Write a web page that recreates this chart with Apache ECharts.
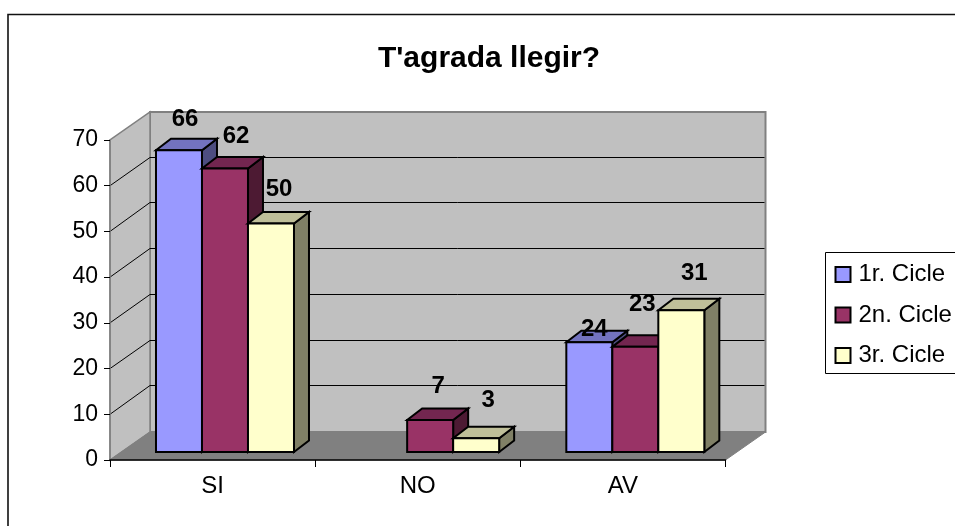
<!DOCTYPE html>
<html>
<head>
<meta charset="utf-8">
<style>html,body{margin:0;padding:0;background:#fff;overflow:hidden}#c{width:955px;height:526px}</style>
<script src="https://cdn.jsdelivr.net/npm/echarts@6/dist/echarts.min.js"></script>
</head>
<body>
<div id="c"></div>
<script>
var titleText = "T'agrada llegir?";
var categories = ['SI', 'NO', 'AV'];
var seriesNames = ['1r. Cicle', '2n. Cicle', '3r. Cicle'];
var cicle1 = [66, null, 24];
var cicle2 = [62, 7, 23];
var cicle3 = [50, 3, 31];
var yTicks = [0, 10, 20, 30, 40, 50, 60, 70];

var FONT = '"Liberation Sans", Arial, sans-serif';
var frontColors = ['#9999FF', '#993366', '#FFFFCC'];
var topColors = ['#7373BF', '#732650', '#BFBF99'];
var sideColors = ['#4D4D80', '#4D1A33', '#808066'];
var wallDepth = [40, -28];
var barFront = [12.4, -8];
var barDepth = [15, -11.5];
var barRatio = 0.2242;
// hand-placed data label offsets from the bar's top-front centre [series][category]
var labelNudge = [
  [[6, -31], [0, 0], [5, -13]],
  [[11, -32], [8, -34], [7, -42]],
  [[8, -34], [12, -38], [13, -37]]
];

function poly(points, fill, stroke, lw) {
  return { type: 'polygon', shape: { points: points },
    style: { fill: fill, stroke: stroke, lineWidth: lw, lineJoin: 'miter' } };
}
function wallsRender(params, api) {
  var c = params.coordSys, dx = wallDepth[0], dy = wallDepth[1];
  var L = c.x, R = c.x + c.width, B = c.y + c.height, T = c.y;
  var ch = [
    poly([[L + dx, T + dy], [R + dx, T + dy], [R + dx, B + dy], [L + dx, B + dy]], '#C0C0C0', '#808080', 2),
    poly([[L, B], [L + dx, B + dy], [L + dx, T + dy], [L, T]], '#C0C0C0', '#808080', 1.5),
    poly([[L, B], [R, B], [R + dx, B + dy], [L + dx, B + dy]], '#808080', '#808080', 1)
  ];
  yTicks.slice(1, -1).forEach(function (v) {
    var y = api.coord([0, v])[1];
    var yb = Math.floor(y + dy - 0.5) + 0.5;
    ch.push({ type: 'polyline', shape: { points: [[L, y], [L + dx, yb], [R + dx - 1, yb]] },
      style: { fill: null, stroke: '#000', lineWidth: 1 } });
  });
  return { type: 'group', children: ch };
}
function barRender(si) {
  return function (params, api) {
    var v = api.value(1), cat = api.value(0);
    if (v == null || isNaN(v)) return null;
    var w = api.size([1, 0])[0], bw = w * barRatio;
    var cx = api.coord([cat, 0])[0];
    var x0 = cx + (si - 1.5) * bw + barFront[0], x1 = x0 + bw;
    var yb = api.coord([cat, 0])[1] + barFront[1];
    var yt = api.coord([cat, v])[1] + barFront[1];
    var dx = barDepth[0], dy = barDepth[1];
    var s = '#000', lw = 2;
    var n = labelNudge[si][cat];
    return { type: 'group', children: [
      poly([[x1, yb], [x1 + dx, yb + dy], [x1 + dx, yt + dy], [x1, yt]], sideColors[si], s, lw),
      poly([[x0, yt], [x1, yt], [x1 + dx, yt + dy], [x0 + dx, yt + dy]], topColors[si], s, lw),
      poly([[x0, yb], [x1, yb], [x1, yt], [x0, yt]], frontColors[si], s, lw),
      { type: 'text', z2: 100, style: { x: (x0 + x1) / 2 + n[0], y: yt + n[1], text: String(v),
        fill: '#000', font: 'bold 24px ' + FONT, align: 'center', verticalAlign: 'middle' } }
    ] };
  };
}
function barSeries(si, values) {
  return { type: 'custom', name: seriesNames[si], renderItem: barRender(si),
    coordinateSystem: 'cartesian2d', encode: { x: 0, y: 1 },
    itemStyle: { color: frontColors[si], borderColor: '#000', borderWidth: 1.7 },
    data: values.map(function (v, i) { return [i, v]; }) };
}

var chart = echarts.init(document.getElementById('c'), null, { renderer: 'canvas' });
chart.setOption({
  animation: false,
  backgroundColor: '#fff',
  title: { text: titleText, left: 484, top: 39, textAlign: 'center',
    textStyle: { fontFamily: FONT, fontWeight: 'bold', fontSize: 30, color: '#000' } },
  graphic: [{ type: 'rect', z: -1, shape: { x: 8, y: 14.5, width: 1000, height: 600 },
    style: { fill: null, stroke: '#111', lineWidth: 1.6 } }],
  legend: { orient: 'vertical', left: 825.5, top: 252.5, data: seriesNames,
    padding: [10, 60, 6, 9], itemWidth: 15, itemHeight: 15, itemGap: 16.5, borderColor: '#000', borderWidth: 1,
    icon: 'rect', textStyle: { fontFamily: FONT, fontSize: 24, color: '#000', padding: [0, 0, 0, 3] } },
  grid: { left: 110, right: 229.5, top: 140, bottom: 66 },
  xAxis: { type: 'category', data: categories, z: 5,
    axisLine: { lineStyle: { color: '#000', width: 1.5 } },
    axisTick: { show: true, alignWithLabel: false, length: 7, lineStyle: { color: '#000', width: 1 } },
    axisLabel: { fontFamily: FONT, fontSize: 24, color: '#000', margin: 14 },
    splitLine: { show: false } },
  yAxis: { type: 'value', min: 0, max: 70, interval: 10, z: 5,
    axisLine: { show: true, lineStyle: { color: '#808080', width: 1.5 } },
    axisTick: { show: true, length: 6, lineStyle: { color: '#000', width: 1 } },
    axisLabel: { fontFamily: FONT, fontSize: 23, color: '#000', margin: 12, padding: [0, 0, 4, 0] },
    splitLine: { show: false } },
  series: [
    { type: 'custom', name: 'walls', renderItem: wallsRender, coordinateSystem: 'cartesian2d',
      encode: { x: 0, y: 1 }, silent: true, data: [[0, 0]] },
    barSeries(0, cicle1), barSeries(1, cicle2), barSeries(2, cicle3)
  ]
});
</script>
</body>
</html>
